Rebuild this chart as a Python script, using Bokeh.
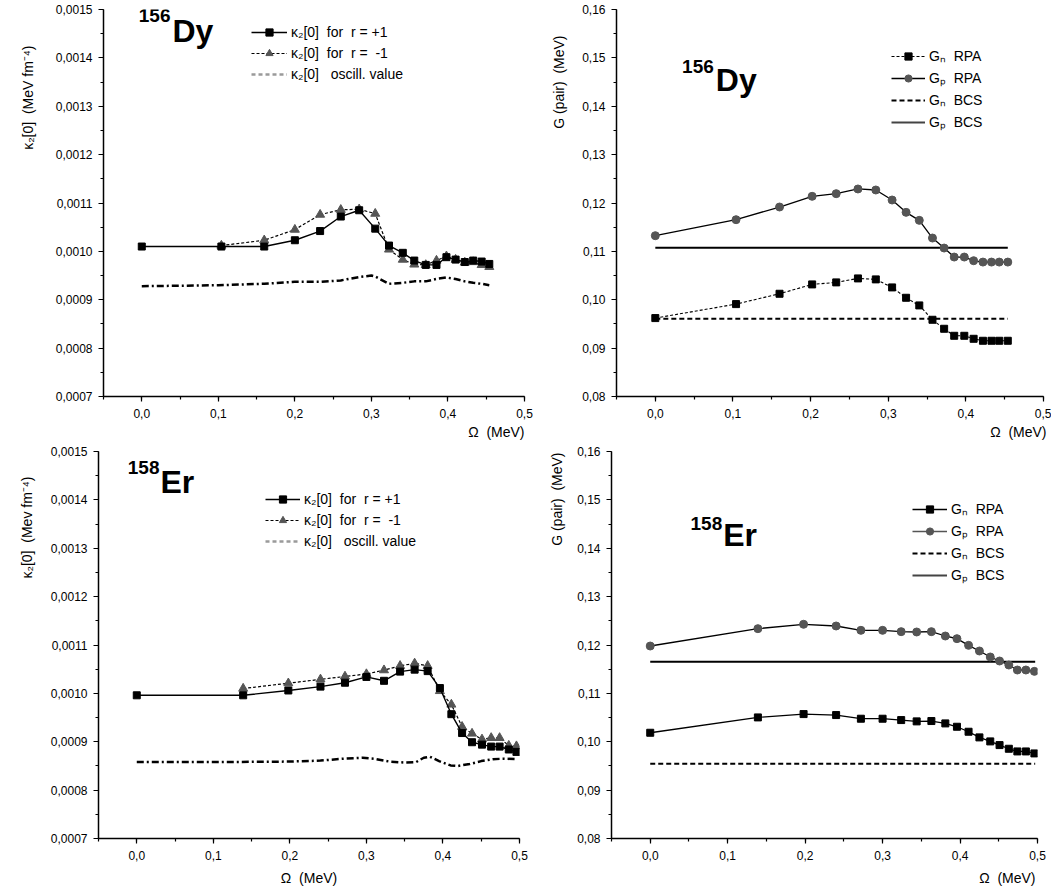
from bokeh.plotting import figure
from bokeh.models import (Range1d, SingleIntervalTicker, CustomJSTickFormatter,
                          Label, Legend, LegendItem, Title)
from bokeh.layouts import column, row
from bokeh.embed import file_html
from bokeh.resources import INLINE

FONT = "Liberation Sans"
SP2 = "\u00a0 "   # a double space that survives SVG whitespace collapsing

# ---------------- data: 156Dy, kappa2[0] ----------------
dy_k_x_plus = [0.0, 0.104, 0.16, 0.2, 0.233, 0.26, 0.284, 0.305, 0.323, 0.341,
               0.356, 0.371, 0.385, 0.398, 0.41, 0.422, 0.433, 0.444, 0.454]
dy_k_plus = [0.001010, 0.001010, 0.001010, 0.001023, 0.001042, 0.001072, 0.001085,
             0.001047, 0.001012, 0.000997, 0.000981, 0.000972, 0.000972, 0.000988,
             0.000983, 0.000978, 0.000981, 0.000979, 0.000974]
dy_k_x_minus = [0.104, 0.16, 0.2, 0.233, 0.26, 0.284, 0.305, 0.323, 0.341,
                0.356, 0.371, 0.385, 0.398, 0.41, 0.422, 0.433, 0.444, 0.454]
dy_k_minus = [0.001012, 0.001023, 0.001045, 0.001076, 0.001086, 0.001087, 0.001078,
              0.001004, 0.000983, 0.000973, 0.000972, 0.000981, 0.000990, 0.000983,
              0.000977, 0.000978, 0.000972, 0.000968]
dy_osc_x = [0.0, 0.1, 0.16, 0.2, 0.233, 0.26, 0.284, 0.3, 0.305, 0.323, 0.341,
            0.356, 0.371, 0.385, 0.398, 0.41, 0.422, 0.433, 0.444, 0.454]
dy_osc = [0.000928, 0.000930, 0.000933, 0.000937, 0.000937, 0.000940, 0.000947,
          0.000950, 0.000948, 0.000933, 0.000935, 0.000938, 0.000938, 0.000943,
          0.000946, 0.000943, 0.000938, 0.000935, 0.000933, 0.000930]

# ---------------- data: 156Dy, G pair ----------------
dy_g_x = [0.0, 0.104, 0.16, 0.202, 0.233, 0.261, 0.284, 0.305, 0.323, 0.34,
          0.357, 0.372, 0.385, 0.398, 0.41, 0.422, 0.433, 0.443, 0.454]
dy_gn_rpa = [0.09621, 0.09910, 0.10124, 0.10317, 0.10359, 0.10441, 0.10421, 0.10255,
             0.10041, 0.09883, 0.09586, 0.09400, 0.09255, 0.09255, 0.09193, 0.09152,
             0.09152, 0.09152, 0.09152]
dy_gp_rpa = [0.11324, 0.11655, 0.11917, 0.12138, 0.12193, 0.12290, 0.12269, 0.12062,
             0.11807, 0.11641, 0.11276, 0.11069, 0.10883, 0.10883, 0.10807, 0.10779,
             0.10779, 0.10779, 0.10779]
dy_bcs_x = [0.0, 0.454]
dy_gn_bcs = [0.09607, 0.09607]
dy_gp_bcs = [0.11076, 0.11076]

# ---------------- data: 158Er, kappa2[0] ----------------
er_k_x_plus = [0.0, 0.139, 0.198, 0.24, 0.272, 0.3, 0.323, 0.344, 0.363, 0.38,
               0.396, 0.411, 0.425, 0.438, 0.451, 0.463, 0.474, 0.486, 0.496]
er_k_plus = [0.000996, 0.000996, 0.001006, 0.001014, 0.001022, 0.001034, 0.001026,
             0.001045, 0.001049, 0.001046, 0.001011, 0.000957, 0.000918, 0.000899,
             0.000894, 0.000890, 0.000890, 0.000884, 0.000879]
er_k_x_minus = [0.139, 0.198, 0.24, 0.272, 0.3, 0.323, 0.344, 0.363, 0.38,
                0.396, 0.411, 0.425, 0.438, 0.451, 0.463, 0.474, 0.486, 0.496]
er_k_minus = [0.001010, 0.001021, 0.001029, 0.001035, 0.001040, 0.001048, 0.001057,
              0.001062, 0.001057, 0.001005, 0.000977, 0.000931, 0.000917, 0.000905,
              0.000908, 0.000908, 0.000892, 0.000891]
er_osc_x = [0.0, 0.1, 0.2, 0.24, 0.27, 0.295, 0.31, 0.33, 0.35, 0.365, 0.375,
            0.383, 0.395, 0.41, 0.42, 0.435, 0.45, 0.465, 0.48, 0.496]
er_osc = [0.000858, 0.000858, 0.000859, 0.000861, 0.000865, 0.000867, 0.000865,
          0.000859, 0.000857, 0.000858, 0.000867, 0.000869, 0.000860, 0.000851,
          0.000850, 0.000854, 0.000860, 0.000864, 0.000865, 0.000864]

# ---------------- data: 158Er, G pair ----------------
er_g_x = [0.0, 0.139, 0.198, 0.24, 0.272, 0.3, 0.324, 0.344, 0.363, 0.381,
          0.396, 0.411, 0.425, 0.439, 0.451, 0.463, 0.474, 0.485, 0.496]
er_gn_rpa = [0.10186, 0.10503, 0.10572, 0.10552, 0.10476, 0.10476, 0.10448, 0.10421,
             0.10428, 0.10379, 0.10310, 0.10207, 0.10090, 0.10007, 0.09931, 0.09855,
             0.09800, 0.09800, 0.09759]
er_gp_rpa = [0.11979, 0.12338, 0.12428, 0.12393, 0.12303, 0.12303, 0.12276, 0.12269,
             0.12276, 0.12186, 0.12131, 0.11993, 0.11876, 0.11752, 0.11669, 0.11586,
             0.11483, 0.11483, 0.11455]
er_bcs_x = [0.0, 0.497]
er_gn_bcs = [0.09545, 0.09545]
er_gp_bcs = [0.11655, 0.11655]

x_label_text = "\u03a9" + SP2 + "(MeV)"
k_plus_label = "\u03ba\u2082[0]" + SP2 + "for" + SP2 + "r = +1"
k_minus_label = "\u03ba\u2082[0]" + SP2 + "for" + SP2 + "r =" + SP2 + "-1"
k_osc_label = "\u03ba\u2082[0]" + SP2 + "\u00a0oscill. value"
gn_rpa_label = "G\u2099" + SP2 + "RPA"
gp_rpa_label = "G\u209a" + SP2 + "RPA"
gn_bcs_label = "G\u2099" + SP2 + "BCS"
gp_bcs_label = "G\u209a" + SP2 + "BCS"


def make_fig(ylo, yhi, yint, ydec, fw, fh, mbl, mbr, mbt, mbb):
    p = figure(frame_width=fw, frame_height=fh,
               x_range=Range1d(-0.05, 0.5), y_range=Range1d(ylo, yhi),
               output_backend="svg", toolbar_location=None,
               min_border_left=mbl, min_border_right=mbr,
               min_border_top=mbt, min_border_bottom=mbb)
    p.outline_line_color = None
    p.xgrid.visible = False
    p.ygrid.visible = False
    p.background_fill_color = "white"
    p.border_fill_color = "white"
    p.xaxis.ticker = SingleIntervalTicker(interval=0.1, num_minor_ticks=2)
    p.yaxis.ticker = SingleIntervalTicker(interval=yint, num_minor_ticks=2)
    p.xaxis.formatter = CustomJSTickFormatter(code="return tick.toFixed(1).replace('.', ',');")
    p.yaxis.formatter = CustomJSTickFormatter(
        code="return tick.toFixed(%d).replace('.', ',');" % ydec)
    for ax in (p.xaxis[0], p.yaxis[0]):
        ax.axis_line_color = "black"
        ax.axis_line_width = 1.5
        ax.major_tick_line_color = "black"
        ax.minor_tick_line_color = "black"
        ax.major_tick_line_width = 1.2
        ax.minor_tick_line_width = 1.2
        ax.major_tick_in = 0
        ax.major_tick_out = 5
        ax.minor_tick_in = 0
        ax.minor_tick_out = 3
        ax.major_label_text_font = FONT
        ax.major_label_text_font_size = "12px"
        ax.major_label_text_color = "black"
    p.xaxis[0].major_label_standoff = 7
    p.yaxis[0].major_label_standoff = 6
    return p


def side_title(p, place, text, size, align, valign, offset, standoff):
    t = Title(text=text, align=align, vertical_align=valign, offset=offset,
              text_font=FONT, text_font_size="%dpx" % size,
              text_font_style="normal", text_color="black")
    if "standoff" in t.properties():
        t.standoff = standoff
    p.add_layout(t, place)


def lab(p, x, y, text, size, align="left"):
    p.add_layout(Label(x=x, y=y, x_units="screen", y_units="screen", text=text,
                       text_font=FONT, text_font_size="%dpx" % size,
                       text_font_style="bold", text_align=align,
                       text_baseline="middle", text_color="black"))


def legend(p, items, vx, vy, gw):
    lg = Legend(items=items, location=(vx, vy), glyph_width=gw, glyph_height=18,
                label_height=18, spacing=3, padding=0, margin=0, label_standoff=4,
                background_fill_alpha=0, border_line_alpha=0,
                label_text_font=FONT, label_text_font_size="14px",
                label_text_color="black")
    p.add_layout(lg)


# ---------------- panel 1: 156Dy kappa ----------------
p1 = make_fig(0.0007, 0.0015, 0.0001, 4, 421, 387, 103, 11, 9, 46)
o1 = p1.line(dy_osc_x, dy_osc, line_color="black", line_width=2.5, line_dash="7 3 2 3")
o1d = p1.line(dy_osc_x[:1], dy_osc[:1], line_color="#9a9a9a", line_width=2.5,
              line_dash="4 3")
m1l = p1.line(dy_k_x_minus, dy_k_minus, line_color="black", line_width=1.2, line_dash="3 2")
m1s = p1.scatter(dy_k_x_minus, dy_k_minus, marker="triangle", size=9,
                 fill_color="#555555", line_color="#555555")
k1l = p1.line(dy_k_x_plus, dy_k_plus, line_color="black", line_width=1.4)
k1s = p1.scatter(dy_k_x_plus, dy_k_plus, marker="square", size=7,
                 fill_color="black", line_color="black")
legend(p1, [LegendItem(label=k_plus_label, renderers=[k1l, k1s]),
            LegendItem(label=k_minus_label, renderers=[m1l, m1s]),
            LegendItem(label=k_osc_label, renderers=[o1d])],
       148, 313, 36)
lab(p1, 67, 381.5, "156", 19, align="right")
lab(p1, 69, 366, "Dy", 32)
side_title(p1, "left", "\u03ba\u2082[0]" + SP2 + "(MeV fm\u207b\u2074)", 14, "right", "bottom", 36, 34)
side_title(p1, "below", x_label_text, 14, "right", "top", 0, 7)

# ---------------- panel 2: 156Dy G ----------------
p2 = make_fig(0.08, 0.16, 0.01, 2, 427, 387, 81, 8, 9, 46)
b2n = p2.line(dy_bcs_x, dy_gn_bcs, line_color="black", line_width=2, line_dash="5 3")
b2p = p2.line(dy_bcs_x, dy_gp_bcs, line_color="black", line_width=2)
b2pd = p2.line(dy_bcs_x[:1], dy_gp_bcs[:1], line_color="#444444", line_width=2)
n2l = p2.line(dy_g_x, dy_gn_rpa, line_color="black", line_width=1.1, line_dash="3 2")
n2s = p2.scatter(dy_g_x, dy_gn_rpa, marker="square", size=7, fill_color="black",
                 line_color="black")
g2l = p2.line(dy_g_x, dy_gp_rpa, line_color="black", line_width=1.3)
g2s = p2.scatter(dy_g_x, dy_gp_rpa, marker="circle", size=8, fill_color="#555555",
                 line_color="#555555")
legend(p2, [LegendItem(label=gn_rpa_label, renderers=[n2l, n2s]),
            LegendItem(label=gp_rpa_label, renderers=[g2l, g2s]),
            LegendItem(label=gn_bcs_label, renderers=[b2n]),
            LegendItem(label=gp_bcs_label, renderers=[b2pd])],
       275, 265, 34)
lab(p2, 97.3, 330, "156", 19, align="right")
lab(p2, 99.3, 316.3, "Dy", 32)
side_title(p2, "left", "G (pair)" + SP2 + "(MeV)", 14, "right", "bottom", 26, 25)
side_title(p2, "below", x_label_text, 14, "right", "top", -3, 7)

# ---------------- panel 3: 158Er kappa ----------------
p3 = make_fig(0.0007, 0.0015, 0.0001, 4, 421, 387, 98, 16, 6, 48)
o3 = p3.line(er_osc_x, er_osc, line_color="black", line_width=2.5, line_dash="7 3 2 3")
o3d = p3.line(er_osc_x[:1], er_osc[:1], line_color="#9a9a9a", line_width=2.5,
              line_dash="4 3")
m3l = p3.line(er_k_x_minus, er_k_minus, line_color="black", line_width=1.2, line_dash="3 2")
m3s = p3.scatter(er_k_x_minus, er_k_minus, marker="triangle", size=9,
                 fill_color="#555555", line_color="#555555")
k3l = p3.line(er_k_x_plus, er_k_plus, line_color="black", line_width=1.4)
k3s = p3.scatter(er_k_x_plus, er_k_plus, marker="square", size=7,
                 fill_color="black", line_color="black")
legend(p3, [LegendItem(label=k_plus_label, renderers=[k3l, k3s]),
            LegendItem(label=k_minus_label, renderers=[m3l, m3s]),
            LegendItem(label=k_osc_label, renderers=[o3d])],
       167, 288, 35)
lab(p3, 61, 371, "158", 19, align="right")
lab(p3, 62, 356.8, "Er", 32)
side_title(p3, "left", "\u03ba\u2082[0]" + SP2 + "(Mev fm\u207b\u2074)", 14, "right", "bottom", 25, 26)
side_title(p3, "below", x_label_text, 14, "center", "top", 0, 14)

# ---------------- panel 4: 158Er G ----------------
p4 = make_fig(0.08, 0.16, 0.01, 2, 426, 387, 76, 10, 6, 48)
b4n = p4.line(er_bcs_x, er_gn_bcs, line_color="black", line_width=2, line_dash="5 3")
b4p = p4.line(er_bcs_x, er_gp_bcs, line_color="black", line_width=2)
b4pd = p4.line(er_bcs_x[:1], er_gp_bcs[:1], line_color="#444444", line_width=2)
n4l = p4.line(er_g_x, er_gn_rpa, line_color="black", line_width=1.3)
n4s = p4.scatter(er_g_x, er_gn_rpa, marker="square", size=7, fill_color="black",
                 line_color="black")
g4l = p4.line(er_g_x, er_gp_rpa, line_color="black", line_width=1.3)
g4ld = p4.line(er_g_x[:1], er_gp_rpa[:1], line_color="#555555", line_width=1.3)
g4s = p4.scatter(er_g_x, er_gp_rpa, marker="circle", size=8, fill_color="#555555",
                 line_color="#555555")
legend(p4, [LegendItem(label=gn_rpa_label, renderers=[n4l, n4s]),
            LegendItem(label=gp_rpa_label, renderers=[g4ld, g4s]),
            LegendItem(label=gn_bcs_label, renderers=[b4n]),
            LegendItem(label=gp_bcs_label, renderers=[b4pd])],
       301, 254, 35)
lab(p4, 110.7, 314.8, "158", 19, align="right")
lab(p4, 111.7, 303.5, "Er", 32)
side_title(p4, "left", "G (pair)" + SP2 + "(MeV)", 14, "right", "bottom", 1, 19)
side_title(p4, "below", x_label_text, 14, "right", "top", 2, 14)

layout = column(row(p1, p2), row(p3, p4))
open("out.html", "w").write(file_html(layout, INLINE))
